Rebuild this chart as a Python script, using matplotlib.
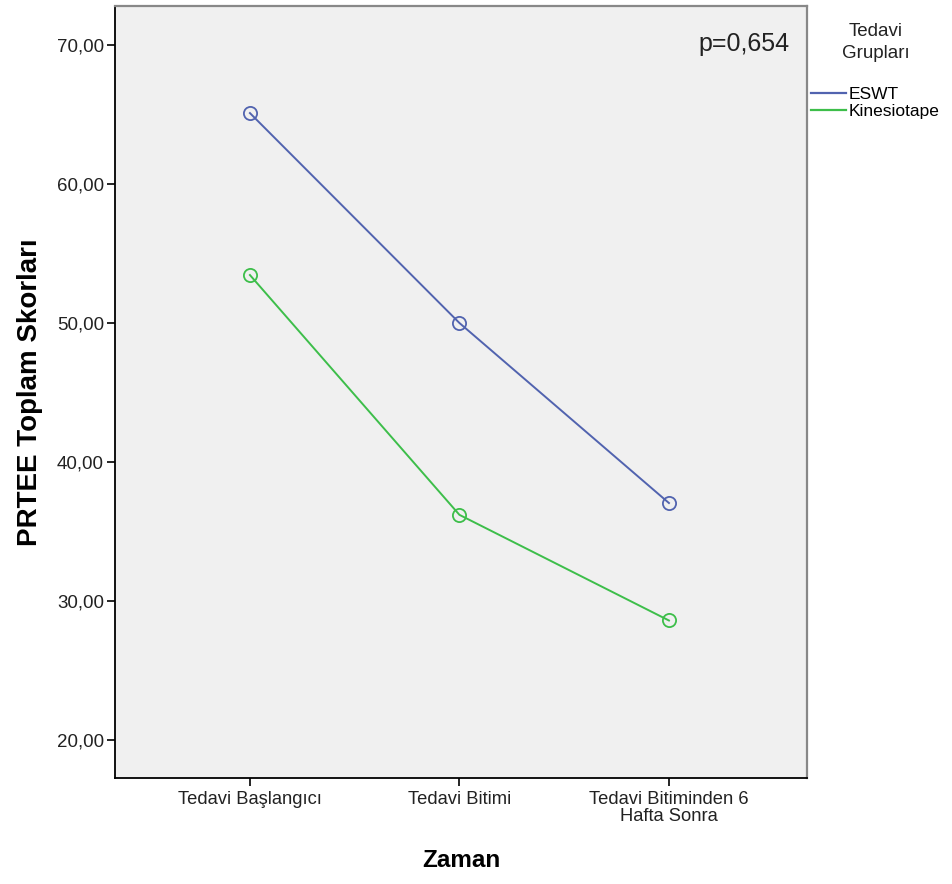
import matplotlib.pyplot as plt
import matplotlib as mpl
from matplotlib.lines import Line2D

mpl.rcParams['font.family'] = ['Liberation Sans', 'DejaVu Sans']

# Data
zaman = ['Tedavi Başlangıcı', 'Tedavi Bitimi', 'Tedavi Bitiminden 6\nHafta Sonra']
gruplar = ['ESWT', 'Kinesiotape']
eswt = [65.1, 50.0, 37.05]
kinesiotape = [53.45, 36.2, 28.6]
yticks = [20, 30, 40, 50, 60, 70]
renkler = ['#5163AF', '#3DBE4A']

fig = plt.figure(figsize=(9.52, 8.84), dpi=100)
ax = fig.add_axes([0.1208, 0.1199, 0.7269, 0.8733])
ax.set_facecolor('#F0F0F0')

x = range(len(zaman))
for vals, c in zip([eswt, kinesiotape], renkler):
    ax.plot(x, vals, color=c, lw=1.4, marker='o', ms=9.5,
            mfc='none', mec=c, mew=1.3)

ax.set_xlim(-0.644, 2.659)
ax.set_ylim(17.27, 72.8)
ax.set_xticks(list(x))
ax.set_xticklabels(zaman, fontsize=13.2, linespacing=1.05, color='#222222')
ax.set_yticks(yticks)
ax.set_yticklabels([f'{v:.2f}'.replace('.', ',') for v in yticks], fontsize=13.5, color='#222222')
ax.tick_params(axis='both', length=6, width=1.2, color='black')
ax.tick_params(axis='x', pad=3)
ax.tick_params(axis='y', pad=2)

for s in ['left', 'bottom']:
    ax.spines[s].set_color('black')
    ax.spines[s].set_linewidth(1.3)
for s in ['top', 'right']:
    ax.spines[s].set_color('#888888')
    ax.spines[s].set_linewidth(1.6)

ax.set_ylabel('PRTEE Toplam Skorları', fontsize=20, fontweight='bold', labelpad=10)
ax.set_xlabel('Zaman', fontsize=17.5, fontweight='bold', labelpad=17)

ax.text(0.975, 0.951, 'p=0,654', transform=ax.transAxes, ha='right', va='center', fontsize=18,
        color='#222222')

# legend: title + line entries
fig.text(876 / 952, 1 - 31 / 884, 'Tedavi', ha='center', va='center', fontsize=13.5, color='#222222')
fig.text(876 / 952, 1 - 54 / 884, 'Grupları', ha='center', va='center', fontsize=13.5, color='#222222')
handles = [Line2D([], [], color=c, lw=1.6) for c in renkler]
ax.legend(handles, gruplar, loc='upper left', bbox_to_anchor=(811 / 952, 1 - 87 / 884),
          bbox_transform=fig.transFigure, frameon=False, fontsize=12.5,
          handlelength=2.0, handletextpad=0.15, borderpad=0, borderaxespad=0,
          labelspacing=0.1)

fig.savefig('out.png', dpi=100, facecolor='white')
